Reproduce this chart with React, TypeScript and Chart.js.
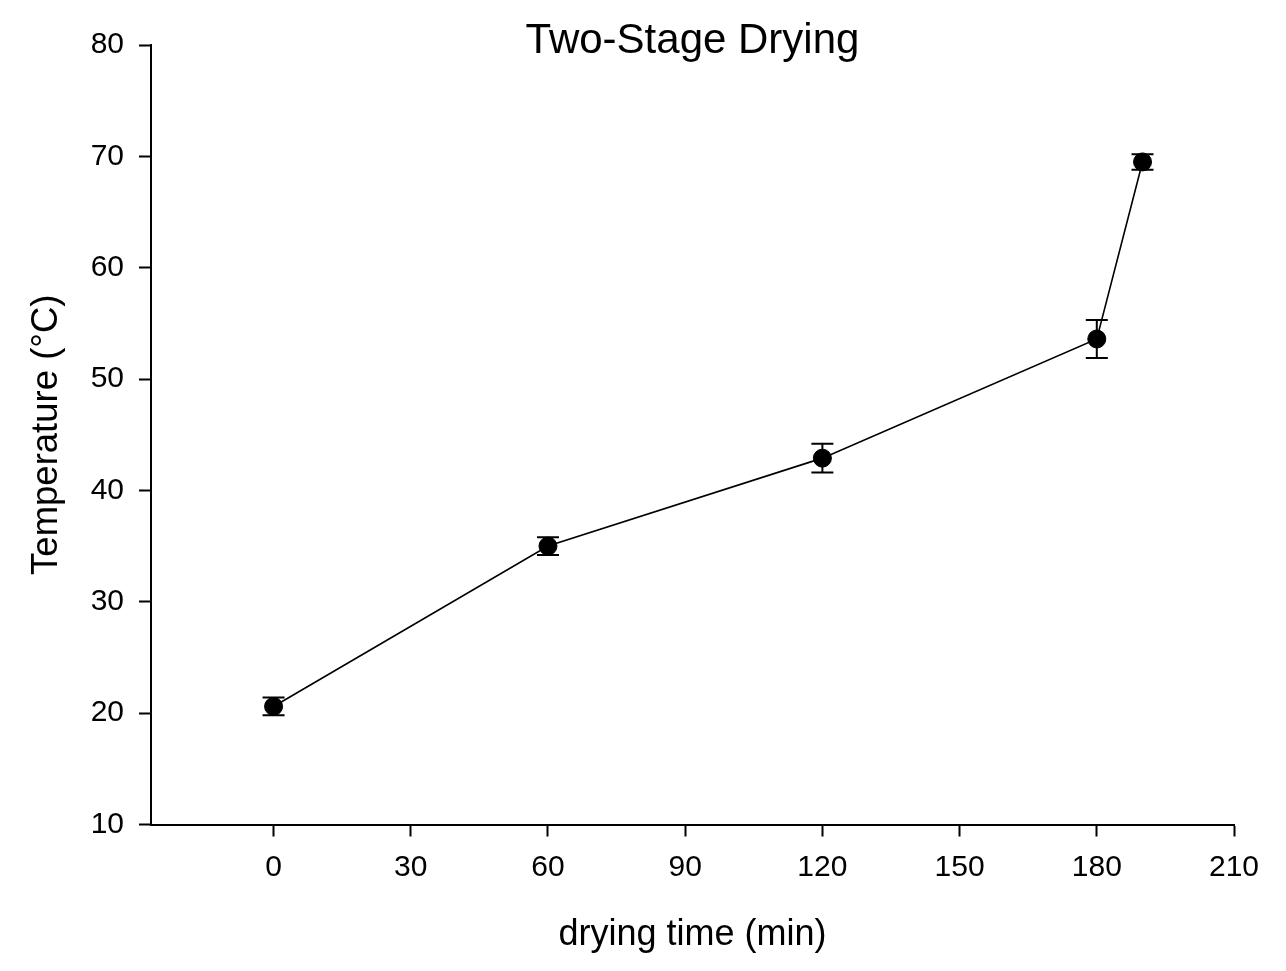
import React, { useEffect, useRef } from "react";
import { Chart, registerables } from "chart.js";

Chart.register(...registerables);

const titleText = "Two-Stage Drying";
const xTitle = "drying time (min)";
const yTitle = "Temperature (\u00B0C)";

const dryingTime = [0, 60, 120, 180, 190];
const temperature = [20.6, 35.0, 42.9, 53.6, 69.5];
const tempError = [0.8, 0.8, 1.3, 1.7, 0.7];

const xTicks = [0, 30, 60, 90, 120, 150, 180, 210];
const yTicks = [10, 20, 30, 40, 50, 60, 70, 80];

const FONT = "'Liberation Sans', Arial, sans-serif";

const errorBarPlugin = {
  id: "errorBars",
  afterDatasetsDraw(chart: any) {
    const { ctx, scales } = chart;
    const xs = scales.x;
    const ys = scales.y;
    ctx.save();
    ctx.strokeStyle = "#000";
    ctx.lineWidth = 2;
    const cap = 11;
    dryingTime.forEach((t, i) => {
      const px = xs.getPixelForValue(t);
      const top = ys.getPixelForValue(temperature[i] + tempError[i]);
      const bot = ys.getPixelForValue(temperature[i] - tempError[i]);
      ctx.beginPath();
      ctx.moveTo(px, top);
      ctx.lineTo(px, bot);
      ctx.moveTo(px - cap, top);
      ctx.lineTo(px + cap, top);
      ctx.moveTo(px - cap, bot);
      ctx.lineTo(px + cap, bot);
      ctx.stroke();
    });
    ctx.restore();
  },
};

const titlePlugin = {
  id: "topTitle",
  afterDraw(chart: any) {
    const { ctx, chartArea } = chart;
    ctx.save();
    ctx.fillStyle = "#000";
    ctx.font = `42px ${FONT}`;
    ctx.textAlign = "center";
    ctx.textBaseline = "alphabetic";
    ctx.fillText(titleText, (chartArea.left + chartArea.right) / 2, chartArea.top + 8);
    ctx.restore();
  },
};

export default function App() {
  const ref = useRef<HTMLCanvasElement | null>(null);

  useEffect(() => {
    if (!ref.current) return;
    const chart = new Chart(ref.current, {
      type: "scatter",
      data: {
        datasets: [
          {
            data: dryingTime.map((t, i) => ({ x: t, y: temperature[i] })),
            showLine: true,
            borderColor: "#000",
            borderWidth: 1.6,
            backgroundColor: "#000",
            pointBackgroundColor: "#000",
            pointBorderColor: "#000",
            pointBorderWidth: 1,
            pointRadius: 9,
            pointHoverRadius: 9,
            tension: 0,
          },
        ],
      },
      options: {
        animation: false,
        responsive: false,
        events: [],
        layout: { padding: { top: 45, right: 52, left: 0, bottom: 0 } },
        plugins: {
          legend: { display: false },
          tooltip: { enabled: false },
          title: { display: false },
        },
        scales: {
          x: {
            type: "linear",
            min: -26.8,
            max: 210,
            afterBuildTicks: (axis: any) => {
              axis.ticks = xTicks.map((v) => ({ value: v }));
            },
            afterFit: (axis: any) => {
              axis.height = 146.5;
            },
            grid: {
              drawOnChartArea: false,
              drawTicks: true,
              tickLength: 12,
              tickWidth: 2,
              tickColor: "#000",
            },
            border: { display: true, color: "#000", width: 2 },
            ticks: {
              color: "#000",
              font: { family: FONT, size: 30 },
              padding: 13,
              maxRotation: 0,
              autoSkip: false,
            },
            title: {
              display: true,
              text: xTitle,
              color: "#000",
              font: { family: FONT, size: 36 },
              padding: { top: 0, bottom: 14 },
            },
          },
          y: {
            type: "linear",
            min: 10,
            max: 80,
            afterBuildTicks: (axis: any) => {
              axis.ticks = yTicks.map((v) => ({ value: v }));
            },
            afterFit: (axis: any) => {
              axis.width = 151;
            },
            grid: {
              drawOnChartArea: false,
              drawTicks: true,
              tickLength: 12,
              tickWidth: 2,
              tickColor: "#000",
            },
            border: { display: true, color: "#000", width: 2 },
            ticks: {
              color: "#000",
              font: { family: FONT, size: 30 },
              padding: 15,
              autoSkip: false,
            },
            title: {
              display: true,
              text: yTitle,
              color: "#000",
              font: { family: FONT, size: 36.5 },
              padding: { top: 25, bottom: 0 },
            },
          },
        },
      },
      plugins: [errorBarPlugin, titlePlugin],
    } as any);
    return () => chart.destroy();
  }, []);

  return (
    <canvas
      ref={ref}
      width={1286}
      height={971}
      style={{ position: "absolute", left: 0, top: 0, width: 1286, height: 971, background: "#fff" }}
    />
  );
}
